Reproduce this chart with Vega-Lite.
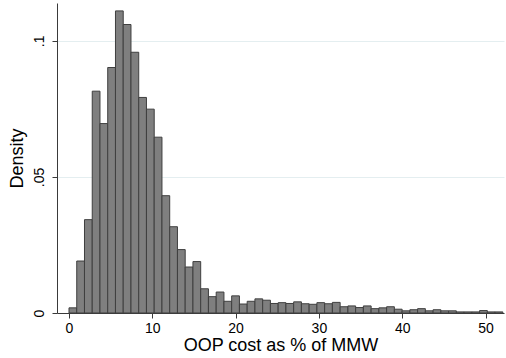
{
  "$schema": "https://vega.github.io/schema/vega-lite/v6.json",
  "width": 447,
  "height": 310,
  "autosize": {"type": "none"},
  "padding": {"left": 57, "top": 3, "right": 2, "bottom": 45},
  "background": "white",
  "config": {"view": {"stroke": null}, "font": "Liberation Sans"},
  "data": {"values": [
    {"bin_start": 0.00, "bin_end": 0.93, "density": 0.0019},
    {"bin_start": 0.93, "bin_end": 1.86, "density": 0.0191},
    {"bin_start": 1.86, "bin_end": 2.79, "density": 0.0343},
    {"bin_start": 2.79, "bin_end": 3.72, "density": 0.0815},
    {"bin_start": 3.72, "bin_end": 4.65, "density": 0.0696},
    {"bin_start": 4.65, "bin_end": 5.58, "density": 0.0902},
    {"bin_start": 5.58, "bin_end": 6.51, "density": 0.1110},
    {"bin_start": 6.51, "bin_end": 7.44, "density": 0.1060},
    {"bin_start": 7.44, "bin_end": 8.37, "density": 0.0958},
    {"bin_start": 8.37, "bin_end": 9.30, "density": 0.0792},
    {"bin_start": 9.30, "bin_end": 10.23, "density": 0.0749},
    {"bin_start": 10.23, "bin_end": 11.16, "density": 0.0646},
    {"bin_start": 11.16, "bin_end": 12.09, "density": 0.0431},
    {"bin_start": 12.09, "bin_end": 13.02, "density": 0.0317},
    {"bin_start": 13.02, "bin_end": 13.95, "density": 0.0233},
    {"bin_start": 13.95, "bin_end": 14.88, "density": 0.0169},
    {"bin_start": 14.88, "bin_end": 15.81, "density": 0.0189},
    {"bin_start": 15.81, "bin_end": 16.74, "density": 0.0089},
    {"bin_start": 16.74, "bin_end": 17.67, "density": 0.0060},
    {"bin_start": 17.67, "bin_end": 18.60, "density": 0.0077},
    {"bin_start": 18.60, "bin_end": 19.53, "density": 0.0043},
    {"bin_start": 19.53, "bin_end": 20.46, "density": 0.0063},
    {"bin_start": 20.46, "bin_end": 21.39, "density": 0.0033},
    {"bin_start": 21.39, "bin_end": 22.32, "density": 0.0043},
    {"bin_start": 22.32, "bin_end": 23.25, "density": 0.0052},
    {"bin_start": 23.25, "bin_end": 24.18, "density": 0.0047},
    {"bin_start": 24.18, "bin_end": 25.11, "density": 0.0035},
    {"bin_start": 25.11, "bin_end": 26.04, "density": 0.0038},
    {"bin_start": 26.04, "bin_end": 26.97, "density": 0.0035},
    {"bin_start": 26.97, "bin_end": 27.90, "density": 0.0041},
    {"bin_start": 27.90, "bin_end": 28.83, "density": 0.0034},
    {"bin_start": 28.83, "bin_end": 29.76, "density": 0.0032},
    {"bin_start": 29.76, "bin_end": 30.69, "density": 0.0038},
    {"bin_start": 30.69, "bin_end": 31.62, "density": 0.0034},
    {"bin_start": 31.62, "bin_end": 32.55, "density": 0.0039},
    {"bin_start": 32.55, "bin_end": 33.48, "density": 0.0023},
    {"bin_start": 33.48, "bin_end": 34.41, "density": 0.0026},
    {"bin_start": 34.41, "bin_end": 35.34, "density": 0.0020},
    {"bin_start": 35.34, "bin_end": 36.27, "density": 0.0026},
    {"bin_start": 36.27, "bin_end": 37.20, "density": 0.0016},
    {"bin_start": 37.20, "bin_end": 38.13, "density": 0.0019},
    {"bin_start": 38.13, "bin_end": 39.06, "density": 0.0023},
    {"bin_start": 39.06, "bin_end": 39.99, "density": 0.0014},
    {"bin_start": 39.99, "bin_end": 40.92, "density": 0.0008},
    {"bin_start": 40.92, "bin_end": 41.85, "density": 0.0012},
    {"bin_start": 41.85, "bin_end": 42.78, "density": 0.0016},
    {"bin_start": 42.78, "bin_end": 43.71, "density": 0.0008},
    {"bin_start": 43.71, "bin_end": 44.64, "density": 0.0012},
    {"bin_start": 44.64, "bin_end": 45.57, "density": 0.0008},
    {"bin_start": 45.57, "bin_end": 46.50, "density": 0.0008},
    {"bin_start": 46.50, "bin_end": 47.43, "density": 0.0004},
    {"bin_start": 47.43, "bin_end": 48.36, "density": 0.0004},
    {"bin_start": 48.36, "bin_end": 49.29, "density": 0.0004},
    {"bin_start": 49.29, "bin_end": 50.22, "density": 0.0009},
    {"bin_start": 50.22, "bin_end": 51.15, "density": 0.0004},
    {"bin_start": 51.15, "bin_end": 52.08, "density": 0.0004}
  ]},
  "mark": {"type": "rect", "fill": "#7f7f7f", "stroke": "#3f3f3f", "strokeWidth": 1},
  "encoding": {
    "x": {
      "field": "bin_start", "type": "quantitative",
      "scale": {"domain": [-1.44, 52.22], "nice": false, "zero": false},
      "axis": {
        "values": [0, 10, 20, 30, 40, 50],
        "title": "OOP cost as % of MMW",
        "grid": false,
        "domainColor": "#3a3a3a", "domainWidth": 1,
        "tickColor": "#3a3a3a", "tickSize": 5,
        "labelFontSize": 14, "labelColor": "#000", "labelPadding": 3,
        "labelFlush": false,
        "titleFontSize": 18, "titleFontWeight": "normal", "titleColor": "#000", "titlePadding": 1
      }
    },
    "x2": {"field": "bin_end"},
    "y": {
      "field": "density", "type": "quantitative",
      "scale": {"domain": [0, 0.1139], "nice": false},
      "axis": {
        "values": [0, 0.05, 0.1],
        "labelExpr": "datum.value == 0 ? '0' : slice(format(datum.value, '.2~f'), 1)",
        "title": "Density",
        "grid": true, "gridColor": "#e4eef0", "gridWidth": 1,
        "domainColor": "#3a3a3a", "domainWidth": 1,
        "tickColor": "#3a3a3a", "tickSize": 5,
        "labelFontSize": 14, "labelColor": "#000", "labelAngle": -90,
        "labelAlign": "center", "labelBaseline": "bottom", "labelPadding": 6,
        "titleFontSize": 18, "titleFontWeight": "normal", "titleColor": "#000", "titlePadding": 6
      }
    },
    "y2": {"datum": 0}
  }
}
